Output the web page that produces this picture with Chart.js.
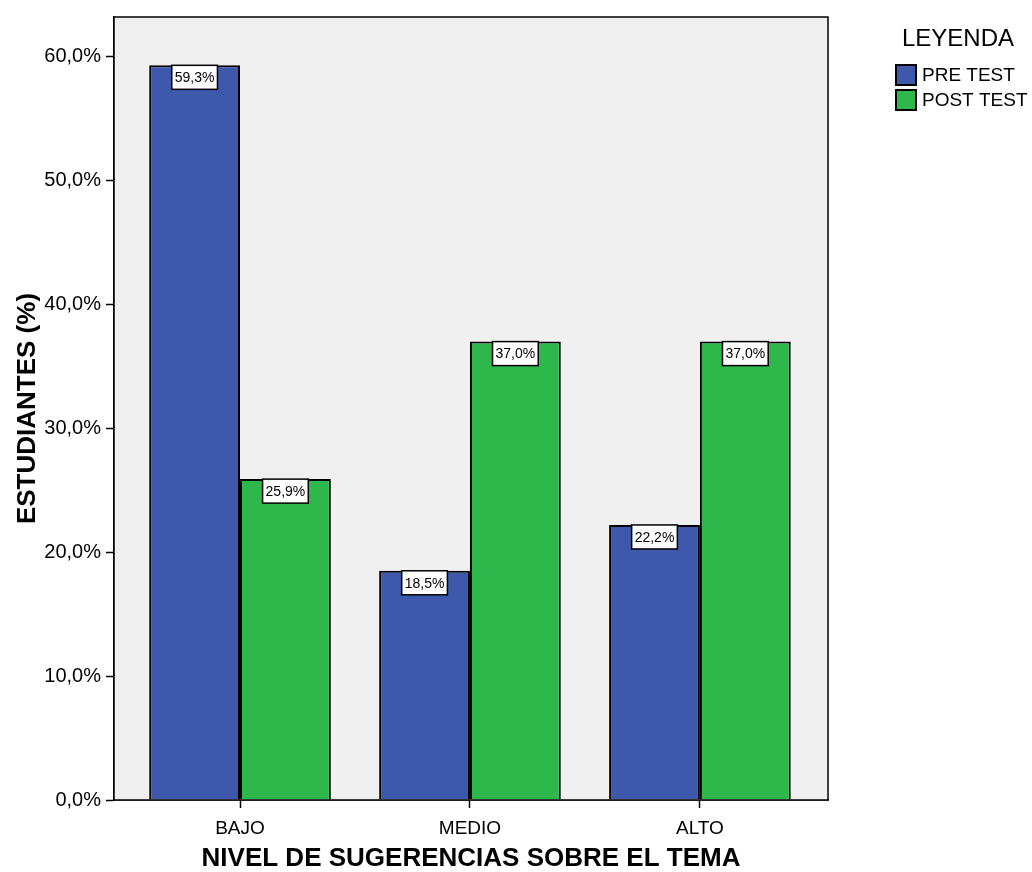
<!DOCTYPE html>
<html>
<head>
<meta charset="utf-8">
<script src="https://cdn.jsdelivr.net/npm/chart.js@4"></script>
<style>
  html, body { margin: 0; padding: 0; background: #ffffff; }
  #wrap { width: 1032px; height: 872px; }
</style>
</head>
<body>
<div id="wrap"><canvas id="chart" width="1032" height="872"></canvas></div>
<script>
const categories = ["BAJO", "MEDIO", "ALTO"];
const preTest = [59.3, 18.5, 22.2];
const postTest = [25.9, 37.0, 37.0];
const yTicks = [0, 10, 20, 30, 40, 50, 60];
const seriesNames = ["PRE TEST", "POST TEST"];
const seriesColors = ["#3e58ac", "#2eb84b"];

const FONT = "Arial, 'Liberation Sans', sans-serif";
Chart.defaults.font.family = FONT;
Chart.defaults.color = "#000000";

const fmt = v => v.toFixed(1).replace(".", ",") + "%";

// gray plot area + frame
const plotFrame = {
    id: "plotFrame",
    beforeDatasetsDraw(chart) {
        const a = chart.chartArea, ctx = chart.ctx;
        ctx.save();
        ctx.fillStyle = "#f0f0f0";
        ctx.fillRect(a.left, a.top, a.right - a.left, a.bottom - a.top);
        ctx.restore();
    },
    afterDraw(chart) {
        const a = chart.chartArea, ctx = chart.ctx;
        ctx.save();
        ctx.strokeStyle = "#000";
        ctx.lineWidth = 1.5;
        ctx.strokeRect(a.left, a.top, a.right - a.left, a.bottom - a.top);
        ctx.restore();
    }
};

// white value boxes just under each bar top
const valueBoxes = {
    id: "valueBoxes",
    afterDatasetsDraw(chart) {
        const ctx = chart.ctx;
        ctx.save();
        ctx.font = "14px " + FONT;
        ctx.textAlign = "center";
        ctx.textBaseline = "middle";
        chart.data.datasets.forEach((ds, di) => {
            chart.getDatasetMeta(di).data.forEach((bar, i) => {
                const txt = fmt(ds.data[i].y);
                const w = ctx.measureText(txt).width + 6;
                const h = 24;
                const top = bar.y;
                ctx.fillStyle = "#fff";
                ctx.fillRect(bar.x - w / 2, top, w, h);
                ctx.strokeStyle = "#000";
                ctx.lineWidth = 1.5;
                ctx.strokeRect(bar.x - w / 2, top, w, h);
                ctx.fillStyle = "#000";
                ctx.fillText(txt, bar.x, top + h / 2 + 1);
            });
        });
        ctx.restore();
    }
};

// legend drawn at the right
const sideLegend = {
    id: "sideLegend",
    afterDraw(chart) {
        const ctx = chart.ctx;
        ctx.save();
        ctx.fillStyle = "#000";
        ctx.textBaseline = "middle";
        ctx.textAlign = "left";
        ctx.font = "24px " + FONT;
        ctx.fillText("LEYENDA", 902, 39);
        ctx.font = "19px " + FONT;
        seriesNames.forEach((name, i) => {
            const y = 65 + i * 25;
            ctx.fillStyle = seriesColors[i];
            ctx.fillRect(896, y, 20, 20);
            ctx.strokeStyle = "#000";
            ctx.lineWidth = 2;
            ctx.strokeRect(896, y, 20, 20);
            ctx.fillStyle = "#000";
            ctx.fillText(name, 922, y + 11);
        });
        ctx.restore();
    }
};

const toPoints = vals => vals.map((v, i) => ({ x: i, y: v }));

new Chart(document.getElementById("chart").getContext("2d"), {
    type: "bar",
    data: {
        datasets: [
            {
                label: seriesNames[0],
                data: toPoints(preTest),
                backgroundColor: seriesColors[0],
                borderColor: "#000",
                borderWidth: 2,
                barPercentage: 1,
                categoryPercentage: 0.79
            },
            {
                label: seriesNames[1],
                data: toPoints(postTest),
                backgroundColor: seriesColors[1],
                borderColor: "#000",
                borderWidth: 2,
                barPercentage: 1,
                categoryPercentage: 0.79
            }
        ]
    },
    options: {
        responsive: false,
        animation: false,
        layout: { padding: { top: 15, right: 204, left: 0, bottom: 0 } },
        plugins: {
            legend: { display: false },
            tooltip: { enabled: false }
        },
        scales: {
            x: {
                type: "linear",
                min: -0.548,
                max: 2.557,
                offset: false,
                afterBuildTicks(scale) {
                    scale.ticks = categories.map((c, i) => ({ value: i }));
                },
                afterFit(scale) { scale.height = 72; },
                ticks: {
                    font: { size: 19 },
                    padding: 9,
                    callback: v => categories[v]
                },
                grid: {
                    offset: false,
                    drawOnChartArea: false,
                    drawTicks: true,
                    tickLength: 8,
                    tickWidth: 1.5,
                    tickColor: "#000"
                },
                border: { color: "#000", width: 1.5 },
                title: {
                    display: true,
                    text: "NIVEL DE SUGERENCIAS SOBRE EL TEMA",
                    font: { size: 26, weight: "bold", lineHeight: 1.0 },
                    padding: 0
                }
            },
            y: {
                min: 0,
                max: 63.2,
                afterBuildTicks(scale) {
                    scale.ticks = yTicks.map(v => ({ value: v }));
                },
                afterFit(scale) { scale.width = 114; },
                ticks: {
                    font: { size: 20 },
                    padding: 5,
                    callback: v => fmt(v)
                },
                grid: {
                    drawOnChartArea: false,
                    drawTicks: true,
                    tickLength: 8,
                    tickWidth: 1.5,
                    tickColor: "#000"
                },
                border: { color: "#000", width: 1.5 },
                title: {
                    display: true,
                    text: "ESTUDIANTES (%)",
                    font: { size: 26, weight: "bold" },
                    padding: { top: 12, bottom: 0 }
                }
            }
        }
    },
    plugins: [plotFrame, valueBoxes, sideLegend]
});
</script>
</body>
</html>
